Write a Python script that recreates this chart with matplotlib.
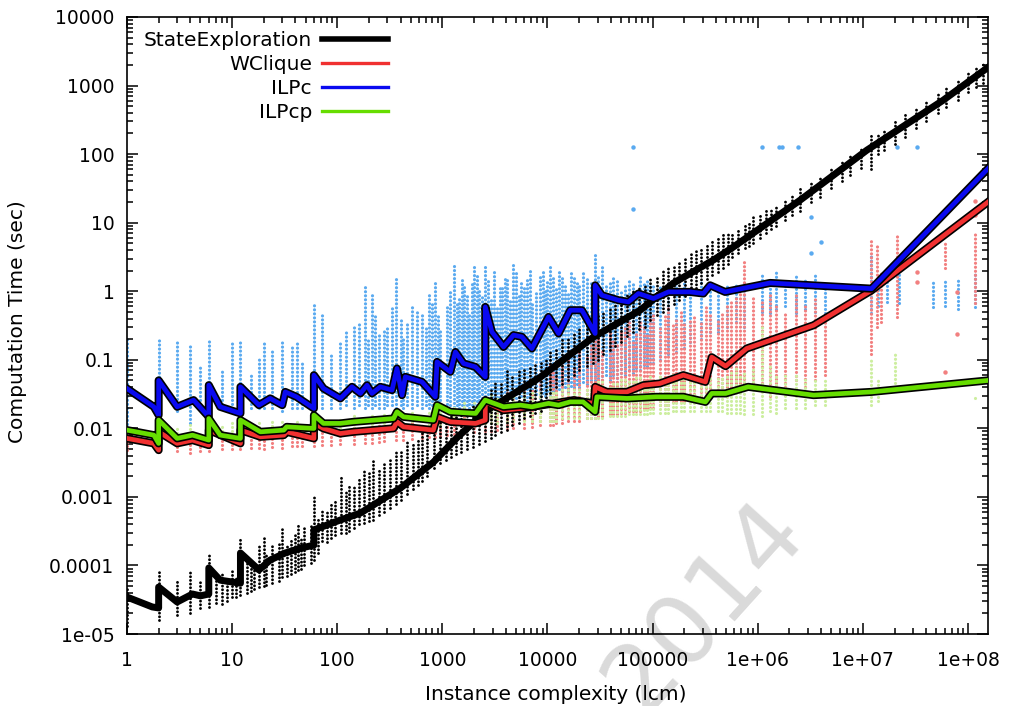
import matplotlib
matplotlib.use("Agg")
import matplotlib.pyplot as plt
import matplotlib.patheffects as pe
from matplotlib.lines import Line2D
from matplotlib.ticker import LogLocator, NullFormatter

# ---------------- data ----------------
# mean curves
se_x = [1, 1.74, 2, 2, 3, 4.2, 5, 6, 6, 7.7, 12, 12, 18, 23, 32, 45, 60, 60, 107, 166,
        398, 820, 1390, 2670, 8530, 27200, 76100, 157000, 376000, 582000, 2520000,
        10900000, 57800000, 155000000]
se_y = [3.46e-5, 2.48e-5, 2.4e-5, 4.84e-5, 2.93e-5, 3.83e-5, 3.6e-5, 3.83e-5, 9.2e-5, 6.1e-5,
        5.5e-5, 1.52e-4, 8.6e-5, 1.2e-4, 1.52e-4, 1.79e-4, 1.98e-4, 3.3e-4, 4.6e-4, 5.8e-4,
        1.34e-3, 3.2e-3, 7.4e-3, 0.0184, 0.0557, 0.213, 0.528, 1.31, 2.83, 4.38, 21.2,
        114, 608, 1840]

wc_x = [1, 1.8, 2, 2, 3, 4.2, 6, 6, 12, 12, 18.6, 31, 33, 60, 60, 74, 107, 143, 343, 370,
        427, 820, 890, 1190, 2070, 2560, 2560, 3820, 5540, 11500, 17800, 27700, 28400,
        36600, 57000, 81800, 117000, 196000, 318000, 365000, 495000, 785000, 3400000,
        12100000, 155000000]
wc_y = [0.00713, 0.00603, 0.00481, 0.00889, 0.00603, 0.00673, 0.00569, 0.00942, 0.00603,
        0.00942, 0.00752, 0.00796, 0.00889, 0.00713, 0.0118, 0.00997, 0.0084, 0.0089, 0.0100,
        0.01244, 0.01051, 0.00942, 0.0147, 0.01244, 0.0118, 0.0132, 0.0243, 0.0184, 0.0195,
        0.0231, 0.0258, 0.0231, 0.0403, 0.034, 0.034, 0.0426, 0.0451, 0.0597, 0.0476, 0.109,
        0.0807, 0.146, 0.319, 1.03, 20]

ilpc_x = [1, 1.8, 2, 2, 3, 4.3, 6, 6, 7.7, 12, 12, 18, 23, 30, 32, 41, 60, 60, 74, 107,
          138, 166, 192, 214, 257, 332, 370, 413, 444, 640, 856, 890, 1190, 1330, 1590,
          2060, 2560, 2560, 2960, 3820, 4750, 5710, 7110, 10230, 12740, 16450, 21250, 28400,
          28400, 32900, 47300, 58900, 73300, 101800, 141300, 227300, 304000, 352000, 489000,
          1310000, 12100000, 155000000]
ilpc_y = [0.038, 0.0206, 0.0156, 0.050, 0.0206, 0.0258, 0.0147, 0.0426, 0.0206, 0.0165,
          0.0403, 0.0218, 0.0273, 0.0218, 0.034, 0.0288, 0.0195, 0.0597, 0.0382, 0.0273,
          0.0403, 0.0323, 0.0426, 0.0323, 0.0403, 0.0361, 0.0747, 0.0305, 0.0563, 0.0476,
          0.0288, 0.0931, 0.0667, 0.130, 0.0883, 0.0788, 0.0563, 0.590, 0.255, 0.154, 0.229,
          0.216, 0.146, 0.422, 0.242, 0.528, 0.528, 0.242, 1.22, 0.874, 0.739, 0.698, 0.926,
          0.783, 0.977, 0.977, 0.926, 1.22, 0.977, 1.32, 1.09, 61.5]

ilpcp_x = [1, 1.8, 2, 2, 3, 4.2, 6, 6, 7.7, 12, 12, 18.6, 31, 33, 60, 60, 74, 107, 143, 343,
           370, 427, 820, 890, 1190, 2070, 2560, 3820, 5540, 7110, 10230, 12740, 16450, 21800,
           28400, 29500, 57000, 108000, 196000, 318000, 365000, 495000, 810000, 3400000,
           12100000, 155000000]
ilpcp_y = [0.00942, 0.00796, 0.00603, 0.0132, 0.00713, 0.00796, 0.00673, 0.0139, 0.00796,
           0.00713, 0.0132, 0.00889, 0.00942, 0.01051, 0.00997, 0.01557, 0.0118, 0.0118,
           0.01244, 0.0139, 0.0174, 0.0147, 0.0132, 0.0218, 0.0174, 0.0165, 0.0258, 0.0206,
           0.0218, 0.0206, 0.0231, 0.0218, 0.0243, 0.0243, 0.0174, 0.0288, 0.0273, 0.0288,
           0.0288, 0.0243, 0.0323, 0.0323, 0.0403, 0.0305, 0.034, 0.050]

# raw measurements, as columns of points (instance lcm, lowest time, highest time)
se_pts_x = [1, 2, 3, 4, 5, 6, 7, 8, 9, 10, 11, 12, 14, 15, 16, 18, 20, 21, 24, 28, 30, 33, 36,
            40, 42, 45, 48, 56, 60, 66, 72, 80, 87, 95, 108, 120, 130, 145, 160, 180, 200, 220,
            250, 280, 320, 360, 400, 460, 520, 580, 640, 720, 840, 950, 1080, 1200, 1350, 1500,
            1700, 1970, 2250, 2550, 2900, 3200, 3600, 4100, 4600, 5300, 6000, 6800, 7600, 8600,
            9600, 10600, 12000, 13700, 15500, 17800, 20000, 23800, 27000, 30000, 34000, 39000,
            44000, 50000, 57000, 65000, 75000, 85000, 95000, 110000, 125000, 140000, 160000,
            180000, 205000, 230000, 260000, 290000, 330000, 370000, 420000, 470000, 520000,
            570000, 650000, 750000, 820000, 900000, 1050000, 1200000, 1350000, 1500000,
            1800000, 2100000, 2500000, 3200000, 3900000, 5000000, 6300000, 7600000, 9500000,
            12000000, 14000000, 16000000, 20000000, 25000000, 32000000, 40000000, 52000000,
            62000000, 80000000, 100000000, 120000000, 140000000]
se_pts_lo = [1.3e-5, 1.6e-5, 1.9e-5, 2e-5, 2.4e-5, 2.5e-5, 2.8e-5, 2.7e-5, 3e-5, 3.5e-5, 3.5e-5,
             3.7e-5, 4e-5, 4.2e-5, 4.5e-5, 4.8e-5, 5e-5, 5.2e-5, 5.5e-5, 6e-5, 6.8e-5, 7e-5,
             7.5e-5, 8e-5, 8.5e-5, 9e-5, 1e-4, 1.1e-4, 1.2e-4, 1.5e-4, 2.3e-4, 2.2e-4, 2.5e-4,
             2.8e-4, 3e-4, 3e-4, 3.2e-4, 3.5e-4, 4e-4, 4.2e-4, 4.5e-4, 4.6e-4, 5.5e-4, 6e-4,
             7e-4, 8e-4, 9e-4, 1.1e-3, 1.3e-3, 1.5e-3, 1.7e-3, 2e-3, 2.6e-3, 3.1e-3, 3.4e-3,
             3.8e-3, 4.2e-3, 4.5e-3, 5e-3, 5.4e-3, 6e-3, 6.5e-3, 7.2e-3, 8e-3, 8.8e-3, 9.4e-3,
             0.011, 0.012, 0.014, 0.015, 0.017, 0.018, 0.025, 0.033, 0.04, 0.045, 0.05, 0.06,
             0.07, 0.08, 0.09, 0.1, 0.12, 0.14, 0.16, 0.18, 0.22, 0.25, 0.28, 0.3, 0.38, 0.45,
             0.5, 0.55, 0.65, 0.75, 0.85, 1.0, 1.1, 1.3, 1.5, 1.7, 1.9, 2.2, 2.5, 3.2, 3.6, 4.2,
             4.6, 5, 6, 7, 8, 9, 11, 13, 15, 20, 24, 32, 40, 50, 62, 60, 100, 115, 140, 180,
             240, 300, 400, 480, 620, 800, 950, 1100]
se_pts_hi = [5e-5, 8e-5, 6e-5, 8e-5, 5.7e-5, 1.4e-4, 8e-5, 8e-5, 7e-5, 8.7e-5, 7e-5, 2.5e-4,
             1.2e-4, 1.3e-4, 1e-4, 2.1e-4, 2.8e-4, 1.5e-4, 2e-4, 2.2e-4, 3.6e-4, 2e-4, 2.5e-4,
             3e-4, 4e-4, 2.5e-4, 3.5e-4, 4e-4, 1.1e-3, 5e-4, 7e-4, 6e-4, 8e-4, 9e-4, 2e-3,
             1.2e-3, 1.5e-3, 1.4e-3, 1.8e-3, 2.5e-3, 2.2e-3, 3.4e-3, 2.5e-3, 3e-3, 3.5e-3, 5e-3,
             4.5e-3, 6.8e-3, 6e-3, 7e-3, 8.5e-3, 0.01, 0.012, 0.0146, 0.013, 0.015, 0.018, 0.02,
             0.019, 0.023, 0.025, 0.03, 0.04, 0.05, 0.045, 0.07, 0.06, 0.07, 0.075, 0.08, 0.085,
             0.09, 0.11, 0.13, 0.15, 0.2, 0.22, 0.25, 0.3, 0.35, 0.4, 0.45, 0.5, 0.55, 0.7, 0.8,
             0.9, 1.0, 1.2, 1.3, 1.5, 1.7, 2.0, 2.2, 2.4, 2.6, 3.0, 3.5, 4.0, 4.3, 5.0, 5.5,
             6.2, 7, 7.5, 7, 8, 9.5, 10.5, 12, 14, 16, 17, 19, 23, 27, 33, 42, 50, 65, 85, 100,
             130, 200, 200, 240, 300, 380, 500, 620, 800, 1000, 1300, 1600, 2000, 2300]

wc_pts_x = [1, 2, 3, 4, 5, 6, 8, 10, 12, 15, 18, 20, 24, 30, 37, 41, 46, 60, 72, 87, 107, 143,
            182, 212, 248, 276, 365, 422, 514, 640, 739, 856, 955, 1100, 1280, 1600, 2000, 2550,
            2900, 3300, 4100, 4700, 6000, 7200, 8500, 10600, 12000, 13700, 17800, 20000, 23800,
            28000, 33000, 39000, 45800, 55000, 65700, 76000, 88000, 100000, 117000, 140000,
            168000, 200000, 228000, 290000, 350000, 420000, 506000, 620000, 740000, 1100000,
            1300000, 1500000, 1800000, 2300000, 2800000, 3500000, 4400000, 12000000, 13500000,
            15000000, 21000000, 60000000, 116000000,
            11300, 15500, 25800, 30500, 42000, 50000, 60000, 70000, 82000, 94000, 130000,
            155000, 185000, 250000, 320000, 460000, 560000, 680000, 900000]
wc_pts_lo = [0.0048, 0.0045, 0.0047, 0.0044, 0.0046, 0.0046, 0.005, 0.005, 0.005, 0.0052,
             0.0052, 0.005, 0.0053, 0.0052, 0.0055, 0.0055, 0.0055, 0.0055, 0.0058, 0.0058,
             0.006, 0.006, 0.0062, 0.0062, 0.0063, 0.0065, 0.0068, 0.0068, 0.007, 0.0072,
             0.0075, 0.0075, 0.0078, 0.008, 0.0082, 0.0085, 0.0088, 0.009, 0.0092, 0.0095,
             0.0098, 0.01, 0.0102, 0.0105, 0.011, 0.011, 0.012, 0.012, 0.013, 0.013, 0.014,
             0.014, 0.015, 0.016, 0.016, 0.017, 0.018, 0.018, 0.02, 0.02, 0.022, 0.022, 0.025,
             0.025, 0.028, 0.03, 0.03, 0.032, 0.035, 0.04, 0.04, 0.035, 0.03, 0.04, 0.04, 0.05,
             0.04, 0.05, 0.06, 0.12, 0.3, 0.35, 0.42, 2.2, 0.67,
             0.011, 0.013, 0.014, 0.015, 0.016, 0.017, 0.018, 0.018, 0.02, 0.02, 0.022, 0.024,
             0.025, 0.028, 0.03, 0.035, 0.04, 0.04, 0.04]
wc_pts_hi = [0.0072, 0.0075, 0.0068, 0.0075, 0.0065, 0.008, 0.0075, 0.0078, 0.009, 0.008,
             0.0085, 0.008, 0.0085, 0.009, 0.0088, 0.0085, 0.009, 0.011, 0.0105, 0.01, 0.0098,
             0.011, 0.0105, 0.011, 0.0115, 0.011, 0.012, 0.012, 0.013, 0.012, 0.013, 0.014,
             0.013, 0.015, 0.016, 0.018, 0.02, 0.022, 0.03, 0.025, 0.035, 0.03, 0.045, 0.04,
             0.06, 0.09, 0.06, 0.1, 0.08, 0.15, 0.12, 0.2, 0.15, 0.25, 0.18, 0.3, 0.2, 0.35,
             0.25, 0.5, 0.3, 0.6, 0.4, 0.35, 0.4, 0.35, 0.5, 0.38, 0.6, 0.8, 2.8, 0.7, 0.9, 0.6,
             0.5, 0.9, 0.6, 0.8, 0.5, 6.0, 5.0, 2.0, 6.5, 5.5, 7.2,
             0.07, 0.12, 0.18, 0.22, 0.2, 0.28, 0.35, 0.25, 0.3, 0.4, 0.45, 0.35, 0.5, 0.45,
             0.6, 0.5, 0.7, 1.0, 0.8]
wc_out_x = [78000000, 78000000, 116000000, 116000000, 116000000, 60000000, 33000000, 33000000]
wc_out_y = [0.97, 0.24, 13, 16, 21, 0.066, 1.9, 1.35]

ilpc_pts_x = [1, 2, 3, 4, 5, 6, 8, 10, 12, 15, 18, 20, 24, 30, 37, 41, 46, 60, 72, 87, 107, 143,
              182, 212, 248, 276, 365, 422, 514, 640, 739, 856, 955, 1100, 1280, 1450, 1600,
              1800, 2000, 2250, 2550, 2900, 3300, 3700, 4100, 4700, 5300, 6000, 6400, 7200, 8500,
              9500, 10600, 12000, 13700, 15500, 17800, 20000, 23800, 28000, 33000, 39000, 45800,
              55000, 65700, 76000, 88000, 100000, 117000, 140000, 168000, 200000, 228000, 290000,
              350000, 420000, 506000, 620000, 740000, 1100000, 1300000, 1500000, 1800000,
              2300000, 2800000, 3500000, 4400000, 12000000, 14000000, 17000000, 22000000,
              46000000, 60000000, 80000000, 116000000,
              120, 160, 195, 230, 300, 330, 400, 460, 570, 700, 800, 900, 1180, 1370, 1530,
              1700, 1900, 2120, 2400, 2700, 3100, 3500, 3900, 4400, 5000, 5600, 6800, 7800,
              9000, 10000, 11300, 12800, 14600, 16600, 18900, 21800, 25800, 30500, 36000,
              42000, 50000, 60000, 70000, 82000, 94000]
ilpc_pts_lo = [0.010, 0.013, 0.018, 0.012, 0.02, 0.014, 0.02, 0.02, 0.018, 0.02, 0.02, 0.02,
               0.02, 0.018, 0.02, 0.02, 0.02, 0.016, 0.02, 0.02, 0.02, 0.02, 0.02, 0.02, 0.02,
               0.02, 0.02, 0.02, 0.02, 0.02, 0.02, 0.02, 0.02, 0.02, 0.018, 0.02, 0.02, 0.02,
               0.02, 0.02, 0.02, 0.022, 0.022, 0.022, 0.022, 0.024, 0.025, 0.025, 0.025, 0.025,
               0.028, 0.03, 0.03, 0.032, 0.035, 0.035, 0.04, 0.04, 0.045, 0.045, 0.05, 0.05,
               0.055, 0.06, 0.065, 0.07, 0.08, 0.09, 0.1, 0.12, 0.13, 0.15, 0.18, 0.2, 0.25,
               0.25, 0.3, 0.35, 0.3, 0.5, 0.48, 0.55, 0.6, 0.48, 0.55, 0.5, 0.48, 0.48, 0.6, 0.7,
               0.67, 0.59, 0.6, 0.55, 0.58,
               0.022, 0.022, 0.022, 0.022, 0.022, 0.022, 0.022, 0.022, 0.022, 0.022, 0.022,
               0.022, 0.022, 0.022, 0.022, 0.022, 0.022, 0.022, 0.024, 0.024, 0.025, 0.025,
               0.026, 0.028, 0.028, 0.03, 0.03, 0.032, 0.033, 0.035, 0.035, 0.038, 0.04, 0.042,
               0.045, 0.048, 0.05, 0.055, 0.06, 0.06, 0.065, 0.07, 0.075, 0.085, 0.09]
ilpc_pts_hi = [0.20, 0.20, 0.19, 0.17, 0.079, 0.20, 0.075, 0.19, 0.20, 0.063, 0.11, 0.19, 0.138,
               0.19, 0.154, 0.19, 0.099, 0.66, 0.45, 0.12, 0.19, 0.30, 1.15, 0.87, 0.25, 0.29,
               1.53, 0.22, 0.66, 0.50, 0.93, 1.3, 0.27, 0.6, 2.4, 0.8, 1.15, 0.5, 2.5, 1.0, 2.5,
               0.8, 0.59, 1.2, 1.5, 2.5, 0.9, 1.2, 1.45, 0.7, 1.6, 1.0, 2.5, 1.2, 1.6, 1.0, 1.7,
               1.2, 1.5, 3.5, 2.5, 1.4, 1.5, 1.2, 1.3, 1.6, 1.45, 1.2, 1.15, 1.3, 1.6, 1.3, 1.1,
               1.4, 1.15, 1.0, 1.2, 1.3, 1.5, 1.9, 1.6, 1.9, 1.4, 1.8, 1.5, 1.7, 1.3, 3.6, 1.8,
               1.5, 1.8, 1.45, 1.4, 1.5, 2.0,
               0.25, 0.35, 0.2, 0.45, 0.3, 0.6, 0.4, 0.35, 0.5, 0.3, 0.7, 0.45, 1.0, 0.7, 1.6,
               0.9, 1.3, 1.8, 0.9, 1.5, 2.0, 1.1, 1.6, 0.8, 1.9, 1.3, 2.2, 1.0, 1.9, 1.4, 1.7,
               2.1, 1.2, 1.9, 1.4, 2.0, 1.3, 1.8, 1.2, 1.7, 1.0, 1.5, 1.1, 1.4, 1.25]
ilpc_out_x = [65700, 65700, 1100000, 1600000, 1700000, 2400000, 21000000, 33000000, 3200000,
              4000000, 3200000]
ilpc_out_y = [125, 16, 125, 125, 125, 125, 125, 125, 12, 5.2, 3.6]

ilpcp_pts_x = [1, 2, 3, 4, 6, 8, 10, 12, 18, 24, 30, 41, 60, 72, 107, 143, 212, 276, 365, 514,
               739, 955, 1280, 1600, 2000, 2550, 2900, 3300, 4100, 4700, 6000, 7200, 8500, 10600,
               12000, 13700, 17800, 20000, 23800, 28000, 33000, 39000, 45800, 55000, 65700,
               76000, 88000, 100000, 117000, 140000, 168000, 200000, 228000, 290000, 350000,
               420000, 506000, 620000, 740000, 1100000, 1300000, 1500000, 1800000, 2300000,
               2800000, 3500000, 4400000, 12000000, 14000000, 20000000, 60000000, 116000000,
               11300, 15500, 25800, 30500, 42000, 50000, 60000, 70000, 82000, 94000, 130000,
               155000, 185000, 250000, 320000, 460000, 560000, 680000, 900000]
ilpcp_pts_lo = [0.008, 0.008, 0.0085, 0.0085, 0.0085, 0.009, 0.009, 0.009, 0.009, 0.0095,
                0.0095, 0.0095, 0.0095, 0.01, 0.01, 0.01, 0.01, 0.0105, 0.011, 0.011, 0.011,
                0.011, 0.0115, 0.012, 0.012, 0.012, 0.012, 0.012, 0.0125, 0.013, 0.013, 0.013,
                0.013, 0.013, 0.013, 0.014, 0.014, 0.014, 0.014, 0.014, 0.014, 0.015, 0.015,
                0.015, 0.016, 0.016, 0.016, 0.017, 0.017, 0.017, 0.018, 0.018, 0.018, 0.018,
                0.018, 0.018, 0.017, 0.017, 0.016, 0.015, 0.018, 0.017, 0.02, 0.02, 0.02, 0.022,
                0.022, 0.022, 0.025, 0.035, 0.04, 0.028,
                0.013, 0.014, 0.014, 0.014, 0.015, 0.015, 0.016, 0.016, 0.016, 0.017, 0.017,
                0.018, 0.018, 0.018, 0.018, 0.018, 0.017, 0.017, 0.016]
ilpcp_pts_hi = [0.011, 0.012, 0.011, 0.0115, 0.013, 0.012, 0.0125, 0.013, 0.013, 0.013, 0.014,
                0.014, 0.016, 0.015, 0.015, 0.016, 0.017, 0.017, 0.018, 0.018, 0.019, 0.02,
                0.022, 0.024, 0.025, 0.03, 0.035, 0.03, 0.035, 0.032, 0.036, 0.034, 0.036, 0.04,
                0.035, 0.04, 0.038, 0.042, 0.04, 0.045, 0.05, 0.045, 0.05, 0.055, 0.05, 0.06,
                0.05, 0.055, 0.06, 0.05, 0.06, 0.055, 0.06, 0.05, 0.06, 0.055, 0.06, 0.08, 0.07,
                0.3, 0.09, 0.06, 0.06, 0.06, 0.055, 0.05, 0.05, 0.1, 0.05, 0.12, 0.05, 0.032,
                0.038, 0.045, 0.04, 0.05, 0.048, 0.055, 0.05, 0.06, 0.055, 0.06, 0.05, 0.065,
                0.055, 0.06, 0.05, 0.06, 0.07, 0.065, 0.08]

x_ticks = [1, 10, 100, 1000, 1e4, 1e5, 1e6, 1e7, 1e8]
x_tick_labels = ["1", "10", "100", "1000", "10000", "100000", "1e+06", "1e+07", "1e+08"]
y_ticks = [1e-5, 1e-4, 1e-3, 1e-2, 1e-1, 1, 10, 100, 1000, 1e4]
y_tick_labels = ["1e-05", "0.0001", "0.001", "0.01", "0.1", "1", "10", "100", "1000", "10000"]

names = ["StateExploration", "WClique", "ILPc", "ILPcp"]
line_colors = ["#000000", "#f03030", "#0a0af0", "#66dd00"]
dot_colors = ["#000000", "#f28080", "#5aaaf0", "#cdeea0"]

# ---------------- figure ----------------
plt.rcParams['font.family'] = ['DejaVu Sans']
fig = plt.figure(figsize=(10.09, 7.06), dpi=100)
ax = fig.add_axes([127 / 1009, 1 - 634 / 706, (988 - 127) / 1009, (634 - 17) / 706])
ax.patch.set_alpha(0)
ax.set_xscale('log')
ax.set_yscale('log')
ax.set_xlim(1, 1.55e8)
ax.set_ylim(1e-5, 1e4)


def dots(xs, lo, hi, color, z, lw=2.3):
    lc = ax.vlines(xs, lo, hi, colors=color, linewidth=lw,
                   linestyles=[(0, (0.01, 1.25))], zorder=z)
    lc.set_capstyle('round')


dots(ilpc_pts_x, ilpc_pts_lo, ilpc_pts_hi, dot_colors[2], 1)
ax.plot(ilpc_out_x, ilpc_out_y, 'o', ms=3.2, color=dot_colors[2], mec='none', zorder=1)
dots(wc_pts_x, wc_pts_lo, wc_pts_hi, dot_colors[1], 2)
ax.plot(wc_out_x, wc_out_y, 'o', ms=3.2, color=dot_colors[1], mec='none', zorder=2)
dots(ilpcp_pts_x, ilpcp_pts_lo, ilpcp_pts_hi, dot_colors[3], 2.5)
dots(se_pts_x, se_pts_lo, se_pts_hi, dot_colors[0], 3, lw=2.1)

ax.plot(se_x, se_y, color=line_colors[0], lw=5, solid_joinstyle='round', zorder=4)
outline = [pe.Stroke(linewidth=5.8, foreground='black'), pe.Normal()]
for xs, ys, c, z in [(wc_x, wc_y, line_colors[1], 5), (ilpc_x, ilpc_y, line_colors[2], 6),
                     (ilpcp_x, ilpcp_y, line_colors[3], 7)]:
    ax.plot(xs, ys, color=c, lw=3.4, solid_joinstyle='round', zorder=z, path_effects=outline)

# ticks, gnuplot-like
ax.set_xticks(x_ticks, labels=x_tick_labels)
ax.set_yticks(y_ticks, labels=y_tick_labels)
ax.xaxis.set_minor_locator(LogLocator(base=10, subs=range(2, 10), numticks=100))
ax.yaxis.set_minor_locator(LogLocator(base=10, subs=range(2, 10), numticks=100))
ax.xaxis.set_minor_formatter(NullFormatter())
ax.yaxis.set_minor_formatter(NullFormatter())
ax.tick_params(which='both', direction='in', top=True, right=True, width=1.1)
ax.tick_params(which='major', length=8, labelsize=13.5)
ax.tick_params(which='minor', length=4)
ax.tick_params(axis='x', pad=12)
ax.tick_params(axis='y', pad=9)
for s in ax.spines.values():
    s.set_linewidth(1.2)

fig.text(556 / 1009, 1 - 694 / 706, "Instance complexity (lcm)", ha='center', va='center',
         fontsize=14.5)
fig.text(18 / 1009, 1 - 322 / 706, "Computation Time (sec)", ha='center', va='center',
         rotation=90, fontsize=14.5)

handles = [Line2D([], [], color=line_colors[0], lw=4)] + \
          [Line2D([], [], color=c, lw=2.4) for c in line_colors[1:]]
ax.legend(handles, names, loc='upper left', bbox_to_anchor=(0.003, 1.0), frameon=False,
          markerfirst=False, fontsize=14.5, handlelength=3.3, handletextpad=0.5,
          labelspacing=0.25, borderaxespad=0.3)

# faint watermark behind everything, partly outside the figure as in the original
fig.text(810 / 1009, 1 - 538 / 706, "October 2014", ha='right', va='baseline', rotation=48,
         rotation_mode='anchor', fontsize=70, color='#dadada', zorder=-1)

fig.savefig("out.png", dpi=100, facecolor='white')
